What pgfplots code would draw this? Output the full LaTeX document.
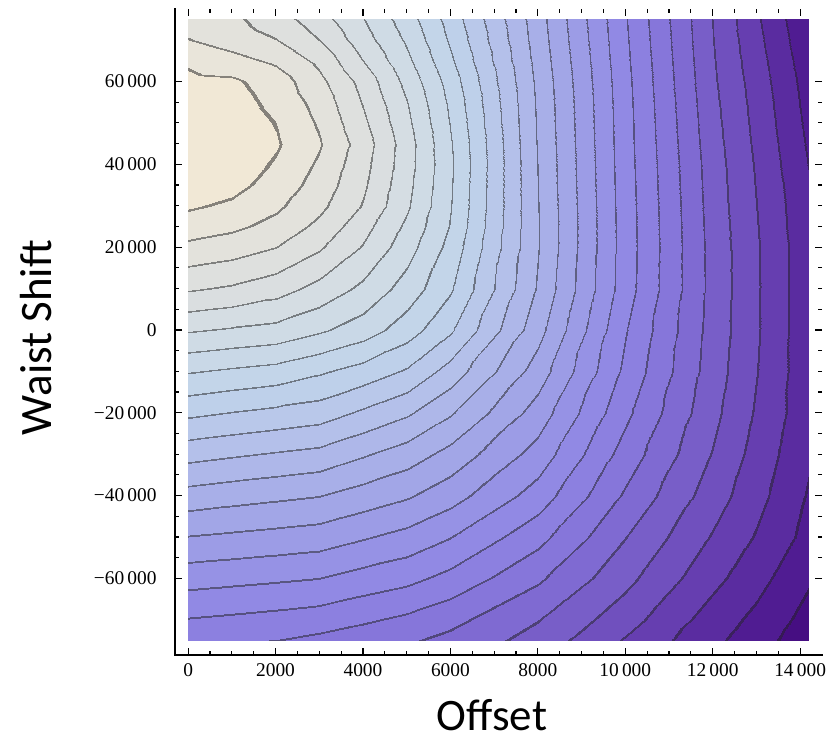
\documentclass[border=0pt]{standalone}
\usepackage{fontspec}
\setmainfont{Liberation Serif}
\newfontfamily\calib{Carlito}
\usepackage{pgfplots}
\pgfplotsset{compat=1.18}
\usepackage{pgfplotstable}

% band colours (v in [k,k+1)) and thin contour-line colours at each integer level
\pgfplotsset{colormap={ws}{
rgb255(0pt)=(241,232,214) rgb255(0.93pt)=(134,130,123)
rgb255(1pt)=(233,229,218) rgb255(1.93pt)=(130,129,125)
rgb255(2pt)=(227,226,220) rgb255(2.93pt)=(127,128,126)
rgb255(3pt)=(222,224,222) rgb255(3.93pt)=(125,127,127)
rgb255(4pt)=(218,222,224) rgb255(4.93pt)=(123,126,128)
rgb255(5pt)=(213,221,227) rgb255(5.93pt)=(120,125,129)
rgb255(6pt)=(207,219,229) rgb255(6.93pt)=(117,124,130)
rgb255(7pt)=(201,216,231) rgb255(7.93pt)=(114,122,131)
rgb255(8pt)=(195,213,233) rgb255(8.93pt)=(111,120,132)
rgb255(9pt)=(190,208,234) rgb255(9.93pt)=(109,117,132)
rgb255(10pt)=(185,200,234) rgb255(10.93pt)=(106,113,132)
rgb255(11pt)=(180,192,234) rgb255(11.93pt)=(104,109,132)
rgb255(12pt)=(174,183,233) rgb255(12.93pt)=(100,105,131)
rgb255(13pt)=(168,175,232) rgb255(13.93pt)=(98,100,131)
rgb255(14pt)=(162,166,231) rgb255(14.93pt)=(95,96,130)
rgb255(15pt)=(156,156,230) rgb255(15.93pt)=(92,91,130)
rgb255(16pt)=(150,146,229) rgb255(16.93pt)=(89,86,129)
rgb255(17pt)=(145,137,228) rgb255(17.93pt)=(86,81,128)
rgb255(18pt)=(140,128,224) rgb255(18.93pt)=(84,77,126)
rgb255(19pt)=(134,118,218) rgb255(19.93pt)=(80,71,122)
rgb255(20pt)=(127,106,210) rgb255(20.93pt)=(77,65,118)
rgb255(21pt)=(120,94,200) rgb255(21.93pt)=(73,59,113)
rgb255(22pt)=(112,80,190) rgb255(22.93pt)=(69,51,107)
rgb255(23pt)=(102,62,176) rgb255(23.93pt)=(63,42,99)
rgb255(24pt)=(90,44,160) rgb255(24.93pt)=(58,33,92)
rgb255(25pt)=(80,28,146) rgb255(25.93pt)=(53,26,84)
rgb255(26pt)=(70,14,130) rgb255(27pt)=(70,14,130)
}}

\pgfplotstableread{
x y v
0 75000 1.45
1000 75000 1.75
2000 75000 2.51
3000 75000 3.52
4000 75000 4.93
5000 75000 6.51
6000 75000 8.37
8000 75000 12.55
10000 75000 16.88
12000 75000 21.00
13000 75000 22.79
14200 75000 24.88
0 70000 0.93
1000 70000 1.40
2000 70000 1.93
3000 70000 2.96
4000 70000 4.52
5000 70000 6.13
6000 70000 8.10
8000 70000 12.45
10000 70000 16.80
12000 70000 20.95
13000 70000 22.66
14200 70000 24.74
0 65000 0.15
1000 65000 0.61
2000 65000 1.14
3000 65000 2.20
4000 65000 3.96
5000 65000 5.73
6000 65000 7.77
8000 65000 12.33
10000 65000 16.73
12000 65000 20.88
13000 65000 22.53
14200 65000 24.58
0 60000 -0.31
1000 60000 -0.20
2000 60000 0.44
3000 60000 1.69
4000 60000 3.33
5000 60000 5.29
6000 60000 7.40
8000 60000 12.21
10000 60000 16.66
12000 60000 20.82
13000 60000 22.41
14200 60000 24.43
0 55000 -0.59
1000 55000 -0.43
2000 55000 0.23
3000 55000 1.33
4000 55000 3.04
5000 55000 4.95
6000 55000 7.16
8000 55000 12.13
10000 55000 16.61
12000 55000 20.73
13000 55000 22.31
14200 55000 24.33
0 50000 -0.75
1000 50000 -0.60
2000 50000 -0.01
3000 50000 1.08
4000 50000 2.75
5000 50000 4.73
6000 50000 7.00
8000 50000 12.09
10000 50000 16.58
12000 50000 20.65
13000 50000 22.23
14200 50000 24.22
0 45000 -0.80
1000 45000 -0.64
2000 45000 -0.15
3000 45000 0.86
4000 45000 2.45
5000 45000 4.51
6000 45000 6.85
8000 45000 12.05
10000 45000 16.56
12000 45000 20.57
13000 45000 22.15
14200 45000 24.11
0 40000 -0.72
1000 40000 -0.56
2000 40000 0.07
3000 40000 1.11
4000 40000 2.62
5000 40000 4.54
6000 40000 6.77
8000 40000 12.00
10000 40000 16.53
12000 40000 20.50
13000 40000 22.06
14200 40000 24.00
0 35000 -0.51
1000 35000 -0.35
2000 35000 0.37
3000 35000 1.36
4000 35000 2.79
5000 35000 4.68
6000 35000 6.83
8000 35000 11.98
10000 35000 16.50
12000 35000 20.46
13000 35000 22.00
14200 35000 23.85
0 30000 -0.17
1000 30000 0.15
2000 30000 0.78
3000 30000 1.70
4000 30000 3.04
5000 30000 4.82
6000 30000 6.89
8000 30000 11.94
10000 30000 16.47
12000 30000 20.42
13000 30000 21.94
14200 30000 23.79
0 25000 0.45
1000 25000 0.75
2000 25000 1.27
3000 25000 2.21
4000 25000 3.58
5000 25000 5.18
6000 25000 7.01
8000 25000 11.91
10000 25000 16.45
12000 25000 20.38
13000 25000 21.89
14200 25000 23.74
0 20000 1.20
1000 20000 1.47
2000 20000 1.95
3000 20000 2.82
4000 20000 4.04
5000 20000 5.54
6000 20000 7.28
8000 20000 11.92
10000 20000 16.44
12000 20000 20.34
13000 20000 21.84
14200 20000 23.68
0 10000 2.86
1000 10000 3.12
2000 10000 3.56
3000 10000 4.30
4000 10000 5.21
5000 10000 6.40
6000 10000 7.82
8000 10000 12.08
10000 10000 16.49
12000 10000 20.31
13000 10000 21.83
14200 10000 23.68
0 0 4.86
1000 0 5.08
2000 0 5.28
3000 0 5.81
4000 0 6.46
5000 0 7.48
6000 0 8.80
8000 0 12.60
10000 0 16.88
12000 0 20.38
13000 0 21.83
14200 0 23.68
0 -10000 6.87
1000 -10000 7.11
2000 -10000 7.33
3000 -10000 7.81
4000 -10000 8.36
5000 -10000 9.08
6000 -10000 10.36
8000 -10000 13.43
10000 -10000 17.18
12000 -10000 20.48
13000 -10000 21.91
14200 -10000 23.65
0 -20000 8.75
1000 -20000 9.01
2000 -20000 9.24
3000 -20000 9.48
4000 -20000 10.15
5000 -20000 10.82
6000 -20000 11.85
8000 -20000 14.42
10000 -20000 17.72
12000 -20000 20.70
13000 -20000 22.07
14200 -20000 23.64
0 -30000 10.60
1000 -30000 10.83
2000 -30000 11.05
3000 -30000 11.26
4000 -30000 11.85
5000 -30000 12.45
6000 -30000 13.29
8000 -30000 15.37
10000 -30000 18.38
12000 -30000 21.03
13000 -30000 22.32
14200 -30000 23.83
0 -40000 12.38
1000 -40000 12.59
2000 -40000 12.77
3000 -40000 12.95
4000 -40000 13.41
5000 -40000 13.86
6000 -40000 14.55
8000 -40000 16.42
10000 -40000 19.11
12000 -40000 21.49
13000 -40000 22.62
14200 -40000 24.07
0 -50000 14.00
1000 -50000 14.15
2000 -50000 14.30
3000 -50000 14.45
4000 -50000 14.87
5000 -50000 15.30
6000 -50000 15.93
8000 -50000 17.63
10000 -50000 19.93
12000 -50000 22.06
13000 -50000 23.04
14200 -50000 24.30
0 -60000 15.55
1000 -60000 15.68
2000 -60000 15.81
3000 -60000 15.95
4000 -60000 16.35
5000 -60000 16.68
6000 -60000 17.26
8000 -60000 18.79
10000 -60000 20.66
12000 -60000 22.68
13000 -60000 23.59
14200 -60000 24.84
0 -70000 17.03
1000 -70000 17.17
2000 -70000 17.32
3000 -70000 17.49
4000 -70000 17.83
5000 -70000 18.19
6000 -70000 18.69
8000 -70000 19.93
10000 -70000 21.54
12000 -70000 23.44
13000 -70000 24.22
14200 -70000 25.34
0 -75000 17.77
1000 -75000 17.87
2000 -75000 17.98
3000 -75000 18.24
4000 -75000 18.54
5000 -75000 18.85
6000 -75000 19.25
8000 -75000 20.38
10000 -75000 22.07
12000 -75000 23.73
13000 -75000 24.55
14200 -75000 25.56
}\wsdata

\begin{document}
\begin{tikzpicture}
\path[use as bounding box] (0pt,0pt) rectangle (415.5pt,-371.5pt);
\begin{axis}[
  at={(87.5pt,-327.5pt)}, anchor=south west,
  scale only axis, width=323.5pt, height=323pt,
  xmin=-300, xmax=14500, ymin=-78500, ymax=77500,
  axis line style={draw=none},
  tick align=inside,
  major tick length=3.5pt, minor tick length=2pt,
  tick style={black, line width=0.6pt},
  xtick={0,2000,4000,6000,8000,10000,12000,14000},
  xticklabels={0,2000,4000,6000,8000,10\,000,12\,000,14\,000},
  ytick={-60000,-40000,-20000,0,20000,40000,60000},
  yticklabels={−60\,000,−40\,000,−20\,000,0,20\,000,40\,000,60\,000},
  minor x tick num=3, minor y tick num=3,
  scaled ticks=false,
  tick label style={font=\fontsize{9.7}{11}\selectfont},
  xticklabel style={anchor=north, inner sep=0pt, yshift=-4pt},
  yticklabel style={anchor=east, inner sep=0pt, xshift=-9pt},
  colormap name=ws,
  colormap access=piecewise constant,
  point meta min=-1, point meta max=26,
  clip=false,
]
\addplot[surf, shader=interp, mesh/rows=22, mesh/cols=12, point meta=\thisrow{v}]
  table[x=x, y=y] {\wsdata};
\draw[line width=0.7pt, line cap=rect] (axis cs:-300,77500) -- (axis cs:-300,-78500) -- (axis cs:14500,-78500);
\end{axis}
\node[font=\calib\fontsize{22.5}{27}\selectfont, anchor=base] at (246pt,-365pt) {Offset};
\node[font=\calib\fontsize{22.5}{27}\selectfont, rotate=90, anchor=base] at (25.5pt,-168.75pt) {Waist Shift};
\end{tikzpicture}
\end{document}
